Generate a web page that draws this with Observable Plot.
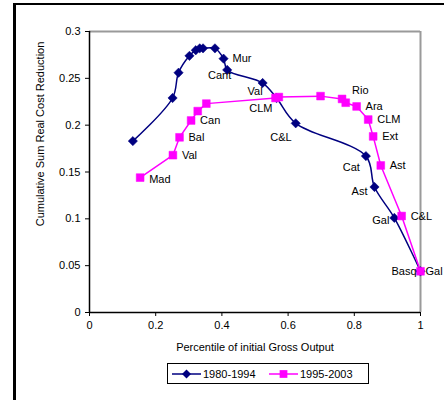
<!DOCTYPE html>
<html>
<head>
<meta charset="utf-8">
<script src="https://cdn.jsdelivr.net/npm/d3@7"></script>
<script src="https://cdn.jsdelivr.net/npm/@observablehq/plot@0.6"></script>
<style>
  html, body { margin: 0; padding: 0; background: #fff; }
  body { width: 445px; height: 400px; position: relative; overflow: hidden; font-family: "Liberation Sans", Arial, sans-serif; }
  #frame { position: absolute; left: 13px; top: 3px; width: 428px; height: 400px; border-top: 2px solid #000; border-left: 3px solid #000; }
  #chart { position: absolute; left: 0; top: 0; }
  #chart svg { overflow: visible; }
  #legend { position: absolute; left: 167px; top: 363px; width: 200px; height: 19px; border: 1px solid #000; background: #fff; }
</style>
</head>
<body>
<div id="frame"></div>
<div id="chart"></div>
<div id="legend"></div>
<script>
// Series 1980-1994
const darkX = [0.131, 0.251, 0.269, 0.302, 0.321, 0.333, 0.343, 0.379, 0.405, 0.416, 0.523, 0.565, 0.623, 0.835, 0.861, 0.921, 1.0];
const darkY = [0.183, 0.229, 0.256, 0.274, 0.280, 0.282, 0.282, 0.282, 0.271, 0.259, 0.245, 0.229, 0.202, 0.167, 0.134, 0.101, 0.044];
const darkLabel = ["", "", "", "", "", "", "", "", "Mur", "Cant", "Val", "CLM", "C&L", "Cat", "Ast", "Gal", "Basq"];
// Series 1995-2003
const pinkX = [0.153, 0.252, 0.272, 0.307, 0.327, 0.353, 0.562, 0.572, 0.698, 0.763, 0.774, 0.807, 0.842, 0.857, 0.880, 0.943, 1.0];
const pinkY = [0.144, 0.168, 0.187, 0.205, 0.215, 0.223, 0.229, 0.230, 0.231, 0.228, 0.224, 0.220, 0.206, 0.188, 0.157, 0.103, 0.044];
const pinkLabel = ["Mad", "Val", "Bal", "Can", "", "", "", "", "", "Rio", "", "Ara", "CLM", "Ext", "Ast", "C&L", "Gal"];
const seriesNames = ["1980-1994", "1995-2003"];
const xTicks = [0, 0.2, 0.4, 0.6, 0.8, 1];
const yTicks = [0, 0.05, 0.1, 0.15, 0.2, 0.25, 0.3];
const xTitle = "Percentile of initial Gross Output";
const yTitle = "Cumulative Sum Real Cost Reduction";

const DARK = "#000080", PINK = "#FF00FF";
const dark = darkX.map((x, i) => ({x, y: darkY[i], label: darkLabel[i]}));
const pink = pinkX.map((x, i) => ({x, y: pinkY[i], label: pinkLabel[i]}));

// label placement (style only)
const darkOff = {Mur: [9, 0, "start"], Cant: [4, 6, "end"], Val: [0, 8, "end"], CLM: [-4, 10, "end"], "C&L": [-4, 14, "end"], Cat: [-6, 11, "end"], Ast: [-7, 4, "end"], Gal: [-5, 3, "end"], Basq: [-4, 0, "end"]};
const pinkOff = {Mad: [9, 2], Rio: [10, -8], Gal: [5, 0]};

const font = {fontFamily: "Liberation Sans, Arial, sans-serif", fontSize: 11, fill: "#000"};
const darkLabelMarks = dark.filter(d => d.label).map(d => Plot.text([d], {x: "x", y: "y", text: "label", dx: darkOff[d.label][0], dy: darkOff[d.label][1], textAnchor: darkOff[d.label][2], ...font}));
const pinkLabelMarks = pink.filter(d => d.label).map(d => {
  const o = pinkOff[d.label] || [9, 0];
  return Plot.text([d], {x: "x", y: "y", text: "label", dx: o[0], dy: o[1], textAnchor: "start", ...font});
});

const plot = Plot.plot({
  width: 445, height: 360,
  marginLeft: 89, marginRight: 25, marginTop: 31, marginBottom: 48,
  style: {fontFamily: "Liberation Sans, Arial, sans-serif", fontSize: "11px", color: "#000", background: "transparent", overflow: "visible"},
  x: {domain: [0, 1]},
  y: {domain: [0, 0.3]},
  marks: [
    Plot.ruleY([0.3], {stroke: "#9a9a9a", strokeWidth: 2}),
    Plot.ruleX([1], {stroke: "#9a9a9a", strokeWidth: 2}),
    Plot.axisX({ticks: xTicks, tickFormat: d => String(d), tickSize: 4, tickPadding: 5, label: null, fontSize: 11}),
    Plot.axisY({ticks: yTicks, tickFormat: d => String(d), tickSize: 4, tickPadding: 5, label: null, fontSize: 11}),
    Plot.ruleX([0], {stroke: "#000", strokeWidth: 1.5}),
    Plot.ruleY([0], {stroke: "#000", strokeWidth: 1.5}),
    Plot.line(dark, {x: "x", y: "y", stroke: DARK, strokeWidth: 1.5, curve: "catmull-rom"}),
    Plot.line(pink, {x: "x", y: "y", stroke: PINK, strokeWidth: 1.5}),
    Plot.dot(dark, {x: "x", y: "y", symbol: "diamond2", r: 4.2, fill: DARK, stroke: DARK, strokeWidth: 0.5}),
    Plot.dot(pink, {x: "x", y: "y", symbol: "square", r: 4.4, fill: PINK, stroke: PINK, strokeWidth: 0.5}),
    ...darkLabelMarks,
    ...pinkLabelMarks,
    Plot.text([xTitle], {frameAnchor: "bottom", dy: 38, ...font}),
    Plot.text([yTitle], {frameAnchor: "left", textAnchor: "middle", dx: -49, dy: -38, rotate: -90, ...font})
  ]
});
document.getElementById("chart").appendChild(plot);

// Legend
const lg = d3.select("#legend").append("svg").attr("width", 200).attr("height", 19)
  .style("font-family", "Liberation Sans, Arial, sans-serif").style("font-size", "11px");
const items = [
  {name: seriesNames[0], color: DARK, sym: d3.symbolDiamond2, size: 52, x0: 4},
  {name: seriesNames[1], color: PINK, sym: d3.symbolSquare, size: 60, x0: 101}
];
items.forEach(it => {
  lg.append("line").attr("x1", it.x0).attr("x2", it.x0 + 29).attr("y1", 10).attr("y2", 10).attr("stroke", it.color).attr("stroke-width", 1.5);
  lg.append("path").attr("d", d3.symbol(it.sym, it.size)()).attr("transform", `translate(${it.x0 + 14.5},10)`).attr("fill", it.color);
  lg.append("text").attr("x", it.x0 + 31).attr("y", 10).attr("dy", "0.35em").text(it.name);
});
</script>
</body>
</html>
